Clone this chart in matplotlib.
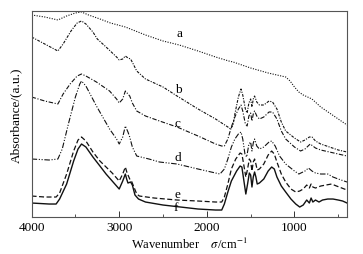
import numpy as np
import matplotlib
matplotlib.use('Agg')
import matplotlib.pyplot as plt
from matplotlib.ticker import MultipleLocator

plt.rcParams['font.family'] = ['Liberation Serif', 'DejaVu Serif']
plt.rcParams['mathtext.fontset'] = 'stix'

# wavenumber (cm-1) / absorbance (a.u., offset curves)
wn_a = [4000, 3850, 3700, 3600, 3500, 3430, 3350, 3220, 3100, 2930, 2700, 2500, 2315, 2100,
        1900, 1750, 1700, 1500, 1300, 1150, 1100, 1050, 1000, 950, 900, 800, 700, 600, 500, 400]
abs_a = [202, 200, 197, 201, 204, 205, 202, 198, 194, 190, 182, 176, 172, 166,
         160, 156, 155, 149, 144, 141, 140, 136, 130, 125, 122, 118, 110, 104, 98, 92]

wn_b = [4000, 3850, 3700, 3640, 3550, 3480, 3430, 3380, 3300, 3250, 3150, 3090, 3030, 3000,
        2960, 2930, 2900, 2870, 2840, 2800, 2700, 2500, 2340, 2100, 1900, 1760, 1730, 1700,
        1680, 1640, 1610, 1590, 1560, 1540, 1520, 1500, 1485, 1470, 1455, 1430, 1400, 1350,
        1290, 1250, 1200, 1150, 1100, 1000, 930, 880, 830, 800, 760, 700, 600, 500, 400]
abs_b = [180, 173, 166, 173, 186, 194, 196, 193, 185, 178, 170, 165, 160, 157,
         158, 161, 159, 158, 153, 146, 138, 130, 121, 108, 98, 90, 88, 92,
         103, 120, 128, 122, 108, 104, 114, 118, 110, 118, 121, 115, 112, 112,
         116, 115, 108, 95, 86, 79, 75, 77, 80, 80, 76, 73, 70, 67, 65]

wn_c = [4000, 3850, 3700, 3640, 3560, 3480, 3430, 3380, 3260, 3110, 3030, 3000, 2960, 2930,
        2900, 2880, 2850, 2800, 2700, 2540, 2340, 2100, 1900, 1830, 1800, 1760, 1720, 1680,
        1640, 1610, 1590, 1560, 1540, 1520, 1500, 1485, 1470, 1455, 1430, 1400, 1350, 1290,
        1250, 1200, 1150, 1100, 1000, 930, 880, 820, 790, 760, 700, 600, 500, 400]
abs_c = [120, 116, 113, 123, 133, 141, 143, 141, 135, 126, 118, 114, 118, 126,
         123, 121, 114, 106, 101, 96, 90, 81, 73, 71, 71, 78, 90, 100,
         108, 112, 106, 93, 91, 101, 104, 96, 103, 106, 101, 98, 100, 105,
         105, 98, 86, 78, 70, 66, 68, 73, 71, 69, 67, 65, 63, 61]

wn_d = [4000, 3800, 3700, 3650, 3580, 3500, 3450, 3430, 3380, 3260, 3110, 3030, 3000, 2960,
        2930, 2900, 2880, 2850, 2800, 2660, 2540, 2340, 2100, 1900, 1850, 1800, 1760, 1720,
        1680, 1640, 1610, 1590, 1565, 1545, 1520, 1500, 1485, 1470, 1455, 1430, 1400, 1350,
        1290, 1260, 1220, 1170, 1100, 1000, 950, 880, 840, 800, 760, 700, 620, 560, 500, 400]
abs_d = [58, 57, 58, 68, 93, 120, 133, 136, 131, 111, 88, 78, 73, 80,
         91, 85, 80, 70, 61, 58, 55, 53, 48, 44, 43, 48, 58, 70,
         78, 83, 85, 78, 63, 60, 73, 75, 66, 74, 78, 71, 68, 70,
         75, 76, 71, 61, 53, 46, 43, 46, 49, 46, 44, 43, 43, 40, 38, 35]

wn_e = [4000, 3850, 3720, 3680, 3600, 3520, 3470, 3430, 3380, 3300, 3220, 3150, 3080, 3000,
        2960, 2930, 2910, 2880, 2860, 2800, 2770, 2600, 2340, 2100, 1900, 1830, 1800, 1760,
        1720, 1670, 1620, 1600, 1580, 1555, 1535, 1515, 1500, 1485, 1470, 1455, 1440, 1425,
        1400, 1350, 1300, 1260, 1230, 1200, 1150, 1100, 1040, 985, 940, 900, 860, 830, 810,
        790, 760, 700, 640, 576, 520, 460, 400]
abs_e = [21, 20, 20, 24, 43, 66, 77, 80, 76, 65, 56, 50, 44, 36,
         43, 50, 44, 38, 36, 23, 21, 19, 17, 16, 15, 15, 20, 33,
         48, 58, 64, 63, 53, 40, 48, 58, 56, 46, 55, 58, 53, 47,
         48, 53, 62, 66, 63, 55, 43, 35, 28, 25, 26, 28, 32, 29, 33,
         30, 29, 31, 32, 33, 31, 29, 27]

wn_f = [4000, 3800, 3720, 3680, 3600, 3520, 3470, 3430, 3380, 3300, 3220, 3150, 3080, 3000,
        2960, 2930, 2915, 2900, 2870, 2850, 2820, 2780, 2700, 2500, 2300, 2100, 1900, 1830,
        1800, 1760, 1720, 1660, 1620, 1600, 1580, 1555, 1535, 1515, 1500, 1485, 1470, 1455,
        1440, 1425, 1400, 1350, 1300, 1260, 1230, 1200, 1150, 1100, 1040, 985, 940, 900,
        860, 830, 810, 790, 760, 720, 680, 620, 560, 500, 450, 400]
abs_f = [14, 13, 13, 18, 33, 56, 68, 73, 70, 60, 51, 43, 36, 28,
         36, 43, 38, 34, 35, 32, 22, 18, 15, 12, 10, 8, 7, 7,
         13, 25, 36, 46, 51, 50, 38, 23, 33, 44, 42, 30, 40, 45,
         40, 33, 34, 38, 46, 50, 48, 40, 31, 25, 18, 13, 10, 12,
         17, 14, 19, 15, 17, 15, 17, 18, 18, 17, 16, 14]

labels = ['a', 'b', 'c', 'd', 'e', 'f']
label_wn = [2310, 2330, 2330, 2330, 2340, 2350]
label_abs = [184, 128, 94, 60, 23, 10]

fig = plt.figure(figsize=(3.63, 2.55), dpi=100)
ax = fig.add_axes([0.087, 0.145, 0.869, 0.808])

k = '#111111'
ax.plot(wn_a, abs_a, color=k, lw=0.8, ls=(0, (1, 1.3)))
ax.plot(wn_b, abs_b, color=k, lw=0.8, ls=(0, (2.5, 1.2, 1, 1.2)))
ax.plot(wn_c, abs_c, color=k, lw=0.8, ls=(0, (4, 1.5, 1, 1.5)))
ax.plot(wn_d, abs_d, color=k, lw=0.8, ls=(0, (5, 1.5, 1, 1.5, 1, 1.5)))
ax.plot(wn_e, abs_e, color=k, lw=0.9, ls=(0, (4, 2)))
ax.plot(wn_f, abs_f, color=k, lw=1.0, ls='-')

for lab, x, y in zip(labels, label_wn, label_abs):
    ax.text(x, y, lab, fontsize=9.5, ha='center', va='center')

ax.set_xlim(4000, 400)
ax.set_ylim(0, 206)
ax.xaxis.set_major_locator(MultipleLocator(1000))
ax.xaxis.set_minor_locator(MultipleLocator(500))
ax.set_yticks([])
ax.tick_params(axis='x', which='major', direction='in', length=4, width=0.7,
               labelsize=9.5, pad=3, colors='#333333', labelcolor='black')
ax.tick_params(axis='x', which='minor', direction='in', length=2.5, width=0.6,
               colors='#333333')
for s in ax.spines.values():
    s.set_color('#555555')
    s.set_linewidth(0.8)

ax.set_ylabel('Absorbance/(a.u.)', fontsize=9.5, labelpad=7)
ax.set_xlabel('Wavenumber    $\\sigma$/cm$^{-1}$', fontsize=9, labelpad=2)

plt.savefig('out.png', dpi=100)
